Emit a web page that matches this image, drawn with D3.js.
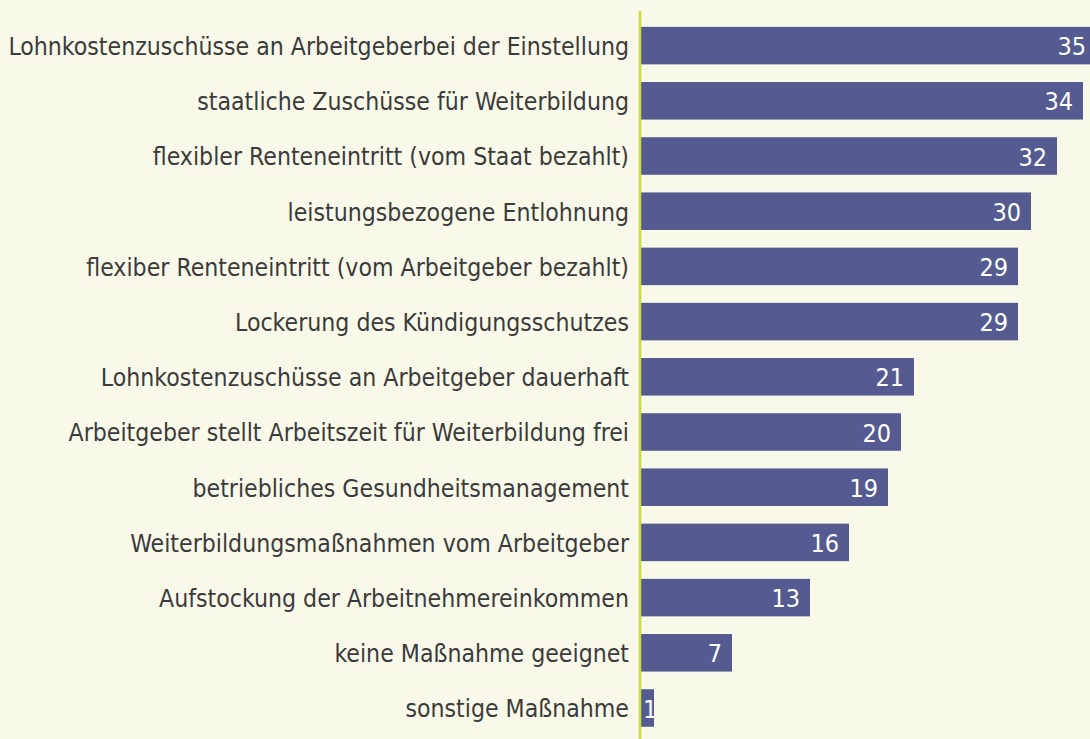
<!DOCTYPE html>
<html>
<head>
<meta charset="utf-8">
<script src="https://cdn.jsdelivr.net/npm/d3@7"></script>
<style>
    html, body { margin: 0; padding: 0; background: #f9f9e9; }
    svg { display: block; }
</style>
</head>
<body>
<div id="chart"></div>
<script>
const categories = [
    "Lohnkostenzuschüsse an Arbeitgeberbei der Einstellung",
    "staatliche Zuschüsse für Weiterbildung",
    "flexibler Renteneintritt (vom Staat bezahlt)",
    "leistungsbezogene Entlohnung",
    "flexiber Renteneintritt (vom Arbeitgeber bezahlt)",
    "Lockerung des Kündigungsschutzes",
    "Lohnkostenzuschüsse an Arbeitgeber dauerhaft",
    "Arbeitgeber stellt Arbeitszeit für Weiterbildung frei",
    "betriebliches Gesundheitsmanagement",
    "Weiterbildungsmaßnahmen vom Arbeitgeber",
    "Aufstockung der Arbeitnehmereinkommen",
    "keine Maßnahme geeignet",
    "sonstige Maßnahme"
];
const values = [35, 34, 32, 30, 29, 29, 21, 20, 19, 16, 13, 7, 1];

const width = 1090, height = 739;
const margin = {top: 18, left: 641};

const svg = d3.select("#chart").append("svg")
    .attr("width", width)
    .attr("height", height);

svg.append("rect")
    .attr("width", width)
    .attr("height", height)
    .attr("fill", "#f9f9e9");

// 13 px per percentage point, the top bar runs past the right edge
const x = d3.scaleLinear()
    .domain([0, 35])
    .range([margin.left, margin.left + 455]);

const y = d3.scaleBand()
    .domain(categories)
    .range([margin.top, margin.top + 55.2 * categories.length])
    .paddingInner(0.32)
    .paddingOuter(0.16);

const font = "'DejaVu Sans Condensed', 'Liberation Sans Narrow', 'Open Sans', sans-serif";

svg.append("g").selectAll("rect")
    .data(values)
    .join("rect")
    .attr("x", x(0))
    .attr("y", (d, i) => y(categories[i]))
    .attr("width", d => x(d) - x(0))
    .attr("height", y.bandwidth())
    .attr("fill", "#555b91");

svg.append("g").selectAll("text")
    .data(categories)
    .join("text")
    .attr("x", 629)
    .attr("y", d => y(d) + y.bandwidth() / 2)
    .attr("dy", "0.38em")
    .attr("text-anchor", "end")
    .attr("font-family", font)
    .attr("font-size", 24.6)
    .attr("fill", "#3b3b3b")
    .text(d => d);

svg.append("g").selectAll("text")
    .data(values)
    .join("text")
    .attr("x", d => (x(d) - x(0) < 30) ? x(0) + 2 : x(d) - 10)
    .attr("y", (d, i) => y(categories[i]) + y.bandwidth() / 2)
    .attr("dy", "0.38em")
    .attr("text-anchor", d => (x(d) - x(0) < 30) ? "start" : "end")
    .attr("font-family", font)
    .attr("font-size", 25)
    .attr("fill", "#ffffff")
    .text(d => d);

svg.append("line")
    .attr("x1", 640).attr("x2", 640)
    .attr("y1", 11).attr("y2", height)
    .attr("stroke", "#c8dc3a")
    .attr("stroke-width", 2.5);
</script>
</body>
</html>
